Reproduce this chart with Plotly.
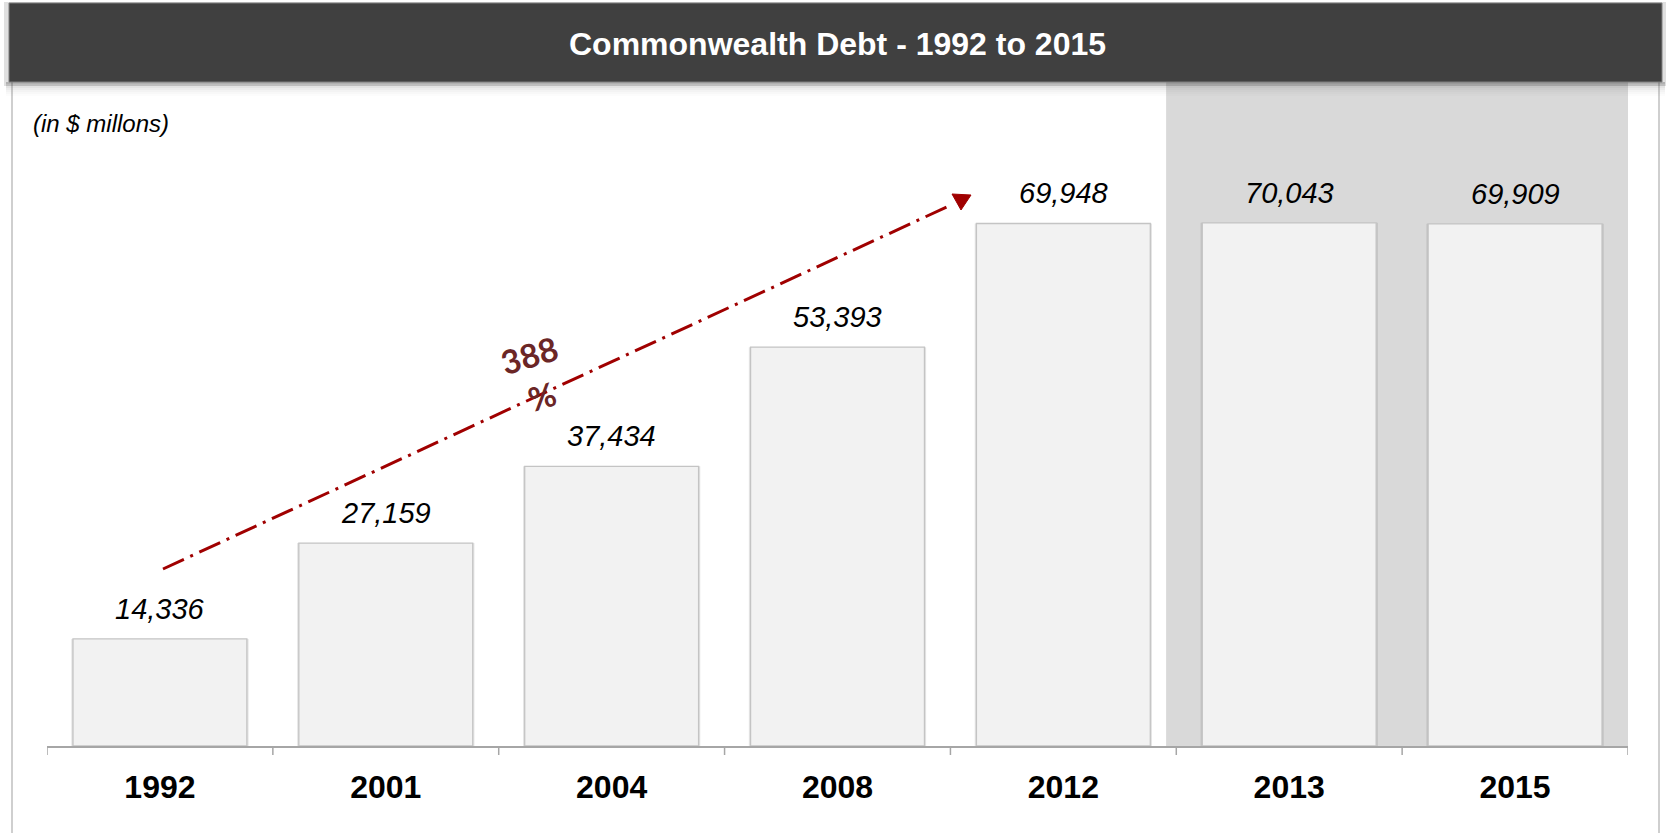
import plotly.graph_objects as go

# ---- data ----
years = ["1992", "2001", "2004", "2008", "2012", "2013", "2015"]
debt = [14336, 27159, 37434, 53393, 69948, 70043, 69909]
title_text = "Commonwealth Debt - 1992 to 2015"
subtitle_text = "(in $ millons)"
growth_text = "388<br>%"
shaded_years = ["2013", "2015"]

# ---- geometry helpers (layout only) ----
W, H = 1667, 833
L, R, T, B = 47, 39, 82, 87
PW, PH = W - L - R, H - T - B


def px(x):
    return (x - L) / PW


def py(y):
    return (H - B - y) / PH


FONT = "Arial, Liberation Sans, sans-serif"
idx = list(range(len(years)))

fig = go.Figure()

# subtle side shadow of bars
fig.add_trace(go.Bar(
    x=idx, y=debt, width=0.785,
    marker=dict(color="rgba(0,0,0,0.10)", line=dict(width=0)),
    hoverinfo="skip",
))
fig.add_trace(go.Bar(
    x=idx, y=debt, width=0.77,
    marker=dict(color="#F2F2F2", line=dict(color="#C4C4C4", width=1.3)),
    hoverinfo="skip",
))

shapes = []
# shaded band
first = years.index(shaded_years[0])
last = years.index(shaded_years[-1])
shapes.append(dict(type="rect", xref="x", yref="paper",
                   x0=first - 0.545, x1=last + 0.505, y0=0, y1=1,
                   fillcolor="#D9D9D9", line=dict(width=0), layer="below"))

# frame lines
for xx in (12, 1659):
    shapes.append(dict(type="line", xref="paper", yref="paper",
                       x0=px(xx), x1=px(xx), y0=py(82), y1=py(833),
                       line=dict(color="#BFBFBF", width=1.5)))

# title bar shadow
for i, op in enumerate([0.30, 0.22, 0.16, 0.11, 0.07, 0.04, 0.02]):
    shapes.append(dict(type="rect", xref="paper", yref="paper",
                       x0=px(6), x1=px(1665), y0=py(82 + 2 * i), y1=py(84 + 2 * i),
                       fillcolor=f"rgba(80,80,80,{op})", line=dict(width=0), layer="above"))
shapes.append(dict(type="rect", xref="paper", yref="paper",
                   x0=px(4), x1=px(1666), y0=py(86), y1=py(2),
                   fillcolor="rgba(0,0,0,0.12)", line=dict(width=0), layer="above"))
# title bar
shapes.append(dict(type="rect", xref="paper", yref="paper",
                   x0=px(9), x1=px(1662), y0=py(82), y1=py(3),
                   fillcolor="#404040", line=dict(color="#7F7F7F", width=1), layer="above"))

# trend arrow
shapes.append(dict(type="line", xref="paper", yref="paper",
                   x0=px(163), y0=py(569), x1=px(951), y1=py(205),
                   line=dict(color="#A00000", width=3, dash="23px,7px,3px,7px"),
                   layer="above"))
tri = [(952, 194), (971, 195), (961, 210)]
path = "M {} {} L {} {} L {} {} Z".format(*[v for p in tri for v in (px(p[0]), py(p[1]))])
shapes.append(dict(type="path", xref="paper", yref="paper", path=path,
                   fillcolor="#A00000", line=dict(color="#A00000", width=1), layer="above"))

# boundary ticks on the category axis
for b in [i - 0.5 for i in idx] + [len(years) - 0.5]:
    shapes.append(dict(type="line", xref="x", yref="paper", x0=b, x1=b,
                       y0=0, y1=py(755), line=dict(color="#A6A6A6", width=1.5)))

annotations = []
# value labels
for i, v in zip(idx, debt):
    annotations.append(dict(x=i, y=v, xref="x", yref="y", text=f"<i>{v:,}</i>",
                            showarrow=False, yanchor="middle", yshift=30,
                            font=dict(family=FONT, size=29, color="#000000")))
# title
annotations.append(dict(x=px(837), y=py(44), xref="paper", yref="paper", text=f"<b>{title_text}</b>",
                        showarrow=False, xanchor="center", yanchor="middle",
                        font=dict(family=FONT, size=32, color="#FFFFFF")))
# subtitle
annotations.append(dict(x=px(31), y=py(123), xref="paper", yref="paper", text=f"<i>{subtitle_text}</i>",
                        showarrow=False, xanchor="left", yanchor="middle",
                        font=dict(family=FONT, size=24, color="#000000")))
# growth label
annotations.append(dict(x=px(535), y=py(376), xref="paper", yref="paper", text=f"<b>{growth_text}</b>",
                        showarrow=False, xanchor="center", yanchor="middle", textangle=-17,
                        font=dict(family="Lato, Open Sans, sans-serif", size=33, color="#6B2626")))

fig.update_layout(
    width=W, height=H,
    margin=dict(l=L, r=R, t=T, b=B, pad=0),
    paper_bgcolor="#FFFFFF", plot_bgcolor="#FFFFFF",
    barmode="overlay", showlegend=False,
    shapes=shapes, annotations=annotations,
    xaxis=dict(tickmode="array", tickvals=idx, ticktext=years,
               range=[-0.5, len(years) - 0.5],
               showline=True, linecolor="#A6A6A6", linewidth=1.5,
               ticks="", showgrid=False, zeroline=False,
               ticklabelstandoff=12, fixedrange=True,
               tickfont=dict(family=FONT, size=32, color="#000000", weight="bold")),
    yaxis=dict(visible=False, range=[0, PH / 0.00747], fixedrange=True),
)

fig.write_html("out.html",
               config={"displayModeBar": False},
               post_script="document.body.style.margin='0';document.body.style.overflow='hidden';")
